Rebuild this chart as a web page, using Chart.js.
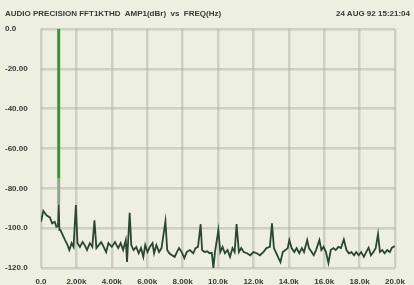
<!DOCTYPE html>
<html>
<head>
<meta charset="utf-8">
<script src="https://cdn.jsdelivr.net/npm/chart.js@4/dist/chart.umd.min.js"></script>
<style>
  html, body { margin: 0; padding: 0; background: #edefe0; }
  #wrap { position: relative; width: 414px; height: 285px; overflow: hidden; }
  #chart { position: absolute; left: 0; top: 0; }
  .hdr { position: absolute; top: 9px; font: bold 8px "Liberation Sans", Arial, sans-serif; color: #3a3a36; white-space: pre; }
</style>
</head>
<body>
<div id="wrap">
  <canvas id="chart" width="414" height="285"></canvas>
  <div class="hdr" style="left:5px;">AUDIO PRECISION FFT1KTHD  AMP1(dBr)  vs  FREQ(Hz)</div>
  <div class="hdr" style="right:4px;">24 AUG 92 15:21:04</div>
</div>
<script>
// Frequency (Hz) of each point of the FFT trace
const traceFreq = [0,130,310,500,630,775,870,960,1000,1040,1100,1230,1360,1500,1600,1730,1840,1970,2060,2200,2350,2470,2600,2760,2900,3020,3130,3260,3400,3540,3680,3810,4000,4180,4360,4500,4640,4790,4860,5010,5100,5230,5380,5520,5650,5780,5890,6020,6150,6300,6390,6520,6670,6810,7030,7130,7250,7400,7550,7680,7800,7950,8100,8230,8410,8600,8730,8870,9020,9100,9240,9390,9520,9650,9740,9830,10020,10130,10260,10390,10540,10680,10820,10940,11050,11180,11310,11450,11640,11820,12000,12190,12370,12560,12740,12930,13050,13160,13300,13420,13530,13660,13810,13940,14030,14160,14310,14440,14590,14740,14860,15040,15140,15290,15410,15540,15730,15840,15970,16100,16240,16370,16520,16650,16800,16950,17110,17260,17390,17540,17690,17810,17950,18090,18240,18370,18510,18640,18780,18910,19040,19150,19280,19410,19560,19710,19830,19980];
// Amplitude (dBr) of each point
const traceAmp = [-96.8,-91.3,-93.5,-94.6,-97.6,-96.8,-99.3,-99,-88,-101,-101,-103.5,-106,-108.5,-111,-107.5,-109.4,-88.4,-107.5,-109.4,-106.9,-108.5,-111,-107.5,-109.4,-96,-110,-108.5,-107,-109.4,-112,-107.5,-109.4,-107,-110,-107.5,-111,-106,-117,-92.3,-108.5,-111,-109.4,-112.6,-110,-114.4,-108.5,-112,-109.4,-107.5,-112.6,-108.5,-112,-110,-96.5,-111,-112.6,-113.6,-114.4,-112,-110,-112,-115,-112,-111,-112.6,-110,-109.4,-98,-111,-112,-111.6,-112.6,-112.4,-120,-112,-101,-112,-109.4,-112.6,-111,-114.4,-110,-112,-98,-112,-110,-112,-112.6,-113.6,-112,-112.6,-113.6,-112,-110,-109.4,-97.6,-110,-112.6,-115,-117,-112,-111,-110,-106,-110,-112,-110,-112.6,-110,-112,-106,-110,-112,-113.6,-111,-106,-111,-109.4,-112,-117.5,-111,-110,-111,-109.4,-110,-105.7,-111,-112.6,-112,-113.6,-112,-113.6,-112,-114.4,-112,-109.8,-113.6,-112,-110,-103,-112,-111,-112.6,-111,-112,-109.8,-109];
// 1 kHz fundamental: frequency, top and lower end of the bright part, foot
const fundFreq = 1000;
const fundTop = 0;
const fundMid = -75;
const fundFoot = -88;
// Axis tick labels
const yTickValues = [0,-20,-40,-60,-80,-100,-120];
const yTickLabels = ["0.0","-20.00","-40.00","-60.00","-80.00","-100.0","-120.0"];
const xTickValues = [0,2000,4000,6000,8000,10000,12000,14000,16000,18000,20000];
const xTickLabels = ["0.0","2.00k","4.00k","6.00k","8.00k","10.0k","12.0k","14.0k","16.0k","18.0k","20.0k"];

const trace = traceFreq.map((f, i) => ({ x: f, y: traceAmp[i] }));
const font = { family: '"Liberation Sans", Arial, sans-serif', size: 8, weight: 'bold' };
const gridColor = 'rgba(160,166,150,0.4)';

new Chart(document.getElementById('chart'), {
  type: 'line',
  data: {
    datasets: [
      { data: [{x: fundFreq, y: fundTop}, {x: fundFreq, y: fundMid}], borderColor: '#2f9a32', borderWidth: 3, pointRadius: 0, order: 0 },
      { data: [{x: fundFreq, y: fundMid}, {x: fundFreq, y: fundFoot}], borderColor: '#8da68e', borderWidth: 3, pointRadius: 0, order: 1 },
      { data: trace, borderColor: '#2b4631', borderWidth: 1.8, pointRadius: 0, tension: 0, order: 2 }
    ]
  },
  options: {
    responsive: false,
    animation: false,
    events: [],
    layout: { padding: { left: 5, right: 11, top: 29, bottom: 0 } },
    plugins: { legend: { display: false }, tooltip: { enabled: false }, title: { display: false } },
    scales: {
      x: {
        type: 'linear', min: 0, max: 20000,
        afterBuildTicks: (s) => { s.ticks = xTickValues.map(v => ({ value: v })); },
        afterFit: (s) => { s.height = 17; },
        grid: { color: gridColor, lineWidth: 2.5, drawTicks: false },
        border: { display: false },
        ticks: { font, color: '#3a3a36', padding: 9, maxRotation: 0, autoSkip: false,
          callback: (v) => { const i = xTickValues.indexOf(v); return i >= 0 ? xTickLabels[i] : ''; } }
      },
      y: {
        type: 'linear', min: -120, max: 0,
        afterBuildTicks: (s) => { s.ticks = yTickValues.map(v => ({ value: v })); },
        afterFit: (s) => { s.width = 36; },
        grid: { color: gridColor, lineWidth: 2.5, drawTicks: false },
        border: { display: false },
        ticks: { font, color: '#3a3a36', crossAlign: 'far', padding: 4, autoSkip: false,
          callback: (v) => { const i = yTickValues.indexOf(v); return i >= 0 ? yTickLabels[i] : ''; } }
      }
    }
  }
});
</script>
</body>
</html>
